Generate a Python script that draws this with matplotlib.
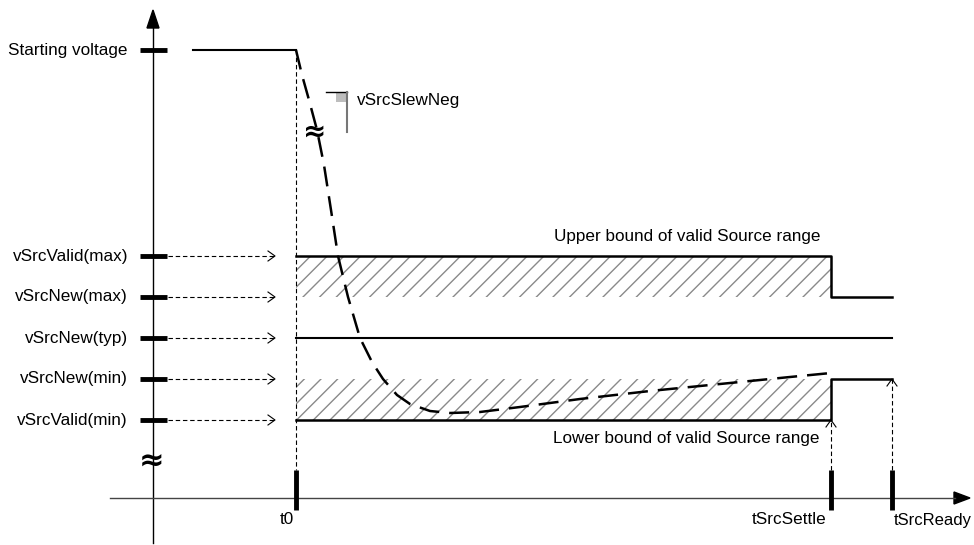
import matplotlib
matplotlib.use("Agg")
import matplotlib.pyplot as plt
from matplotlib.patches import Polygon, Rectangle

plt.rcParams['font.family'] = ['Liberation Sans', 'DejaVu Sans']
plt.rcParams['hatch.linewidth'] = 1.0

# ---- data (diagram units: x = time, y = voltage) ----
level_labels = ['Starting voltage', 'vSrcValid(max)', 'vSrcNew(max)',
                'vSrcNew(typ)', 'vSrcNew(min)', 'vSrcValid(min)']
level_values = [495, 289, 248, 207, 166, 125]

time_labels = ['t0', 'tSrcSettle', 'tSrcReady']
time_values = [296, 831, 892]

start_time = 193

curve_t = [296, 302, 309, 317, 324, 331, 338, 348, 360, 372, 383, 397, 410,
           430, 450, 480, 520, 580, 650, 720, 790, 831]
curve_v = [495, 470, 445, 415, 380, 335, 289, 248, 207, 183, 166, 150, 141,
           134, 132, 133, 138, 146, 154, 161, 168, 172]

# ---- figure ----
fig = plt.figure(figsize=(9.74, 5.45), dpi=100)
ax = fig.add_axes([0, 0, 1, 1])
ax.set_xlim(0, 974)
ax.set_ylim(0, 545)
ax.axis('off')

FS = 12.3
y_axis_x = 153
x_axis_y = 47
V = dict(zip(level_labels, level_values))
t0, tset, trdy = time_values

# axes lines with arrows
ax.plot([y_axis_x, y_axis_x], [2, 525], color='k', lw=1.0)
ax.add_patch(Polygon([[y_axis_x, 535], [y_axis_x - 6, 517], [y_axis_x + 6, 517]],
                     closed=True, color='k'))
ax.plot([110, 955], [x_axis_y, x_axis_y], color='#444444', lw=1.0)
ax.add_patch(Polygon([[970, x_axis_y], [954, x_axis_y + 6], [954, x_axis_y - 6]],
                     closed=True, color='k'))

# level ticks, labels and dashed arrows
for lab, v in zip(level_labels, level_values):
    ax.plot([140, 167], [v, v], color='k', lw=3.5, solid_capstyle='butt')
    ax.text(128, v, lab, ha='right', va='center', fontsize=FS)
    if lab != 'Starting voltage':
        ax.plot([168, 275], [v, v], color='k', lw=0.8, ls=(0, (4, 2.5)))
        ax.plot([268, 275, 268], [v + 5, v, v - 5], color='k', lw=0.8)

# starting voltage line
ax.plot([start_time, t0], [V['Starting voltage']] * 2, color='k', lw=1.5)

# hatched bands
ax.fill_between([t0, tset], V['vSrcNew(max)'], V['vSrcValid(max)'],
                facecolor='none', edgecolor='#8a8a8a', hatch='//', lw=0)
ax.fill_between([t0, tset], V['vSrcValid(min)'], V['vSrcNew(min)'],
                facecolor='none', edgecolor='#8a8a8a', hatch='//', lw=0)

# bound lines
ax.plot([t0, tset, tset, trdy],
        [V['vSrcValid(max)'], V['vSrcValid(max)'], V['vSrcNew(max)'], V['vSrcNew(max)']],
        color='k', lw=1.8)
ax.plot([t0, trdy], [V['vSrcNew(typ)']] * 2, color='k', lw=1.5)
ax.plot([t0, tset, tset, trdy],
        [V['vSrcValid(min)'], V['vSrcValid(min)'], V['vSrcNew(min)'], V['vSrcNew(min)']],
        color='k', lw=1.8)

# t0 dashed vertical
ax.plot([t0, t0], [V['Starting voltage'], 75], color='k', lw=0.8, ls=(0, (4, 2.5)))

# up arrows to settle / ready
for t, v in [(tset, V['vSrcValid(min)']), (trdy, V['vSrcNew(min)'])]:
    ax.plot([t, t], [75, v], color='k', lw=0.8, ls=(0, (4, 2.5)))
    ax.plot([t - 5, t, t + 5], [v - 7, v, v - 7], color='k', lw=0.8)

# time ticks and labels
for lab, t in zip(time_labels, time_values):
    ax.plot([t, t], [35, 75], color='k', lw=3.5, solid_capstyle='butt')
ax.text(t0 - 2, 25, 't0', ha='right', va='center', fontsize=FS)
ax.text(tset - 4, 25, 'tSrcSettle', ha='right', va='center', fontsize=FS)
ax.text(972, 25, 'tSrcReady', ha='right', va='center', fontsize=12)

# dashed response curve
ax.plot(curve_t, curve_v, color='k', lw=1.8, ls=(0, (8, 4)))

# bound labels
ax.text(687, 308, 'Upper bound of valid Source range', ha='center', va='center', fontsize=FS)
ax.text(686, 106, 'Lower bound of valid Source range', ha='center', va='center', fontsize=FS)

# break marks
ax.text(315, 413, '≈', ha='center', va='center', fontsize=20, fontweight='bold',
        family='DejaVu Sans')
ax.text(151, 83, '≈', ha='center', va='center', fontsize=22, fontweight='bold',
        family='DejaVu Sans')

# slew symbol
ax.plot([326, 347], [453, 453], color='k', lw=1.0)
ax.add_patch(Rectangle((336, 443), 10, 10, color='#bdbdbd', lw=0))
ax.plot([347, 347], [453, 413], color='#777777', lw=1.5)
ax.text(357, 445, 'vSrcSlewNeg', ha='left', va='center', fontsize=FS)

fig.savefig('out.png', dpi=100)
